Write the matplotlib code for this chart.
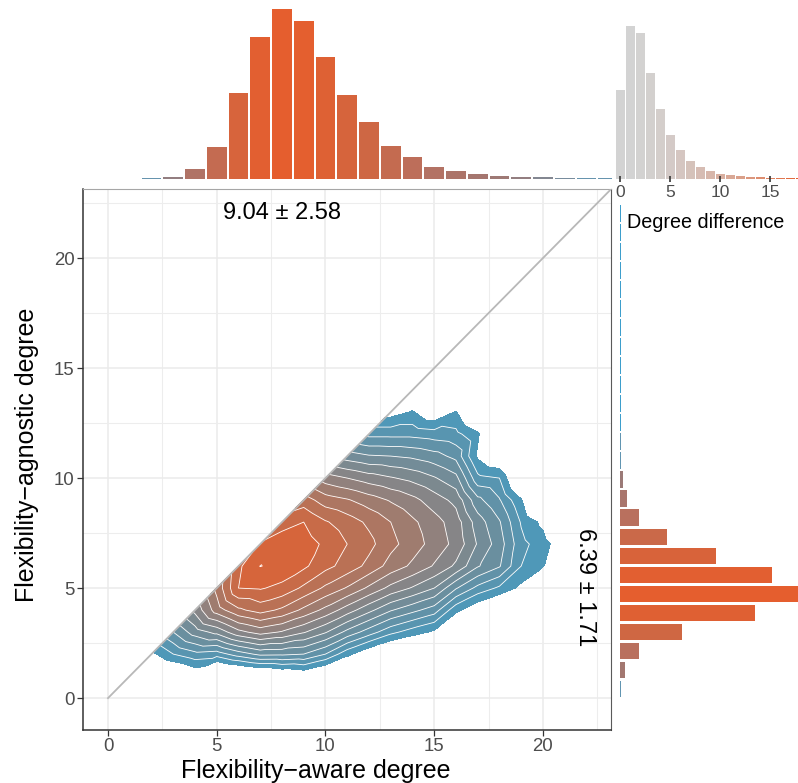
import numpy as np
import matplotlib
matplotlib.use("Agg")
import matplotlib.pyplot as plt
import matplotlib.tri as mtri
from matplotlib.colors import LinearSegmentedColormap

plt.rcParams['font.family'] = ['Liberation Sans', 'DejaVu Sans']

# ---- values ----
# top histogram: flexibility-aware degree
aware_degree = list(range(2, 24))
aware_counts = [3, 7, 31, 97, 259, 427, 511, 475, 367, 253, 172, 100,
                67, 37, 25, 16, 10, 7, 5, 4, 3, 3]

# right histogram: flexibility-agnostic degree
agnostic_degree = list(range(1, 27))
agnostic_counts = [1, 5, 19, 62, 135, 178, 152, 96, 47, 19, 7, 3, 1, 1,
                   0.7, 0.7, 0.7, 0.7, 0.7, 0.7, 0.7, 0.7, 0.7, 0.7, 0.7, 0.7]

# inset histogram: degree difference (aware - agnostic)
diff_values = list(range(0, 19))
diff_counts = [268, 460, 439, 318, 210, 132, 87, 54, 36, 24, 16, 12, 9, 6,
               5, 4, 3, 3, 2]

aware_mean, aware_sd = 9.04, 2.58
agnostic_mean, agnostic_sd = 6.39, 1.71

# density level of the 2d distribution, one list per aware degree x = 0..22,
# entries for agnostic degree y = 0..min(x, 14) (no points above the diagonal)
density_grid = [
    [-3],
    [-3, -3],
    [-3, -2, 0.2],
    [-3, -1.5, 1.5, 3.5],
    [-3, -0.6, 2.2, 5.0, 6.8],
    [-3, -2.5, 2.0, 5.8, 9.0, 9.8],
    [-3, -2.0, 3.0, 7.2, 10.3, 12.5, 12.3],
    [-3, -1.5, 3.75, 7.9, 10.9, 12.6, 13.52, 12.6],
    [-3, -1.0, 3.7, 7.4, 10.3, 12.2, 13.3, 13.2, 12.0],
    [-3, -0.6, 3.5, 6.6, 9.25, 11.3, 12.7, 13.0, 12.5, 11.0],
    [-3, -1.5, 2.5, 5.6, 8.2, 10.3, 11.8, 12.3, 11.6, 10.0, 8.0],
    [-3, -2, 0.8, 4.2, 7.0, 9.4, 11.1, 11.5, 11.0, 9.6, 7.5, 5.0],
    [-3, -3, -0.5, 3.0, 5.8, 8.3, 10.2, 10.8, 10.3, 9.0, 7.0, 4.6, 2.2],
    [-3, -3, -1.5, 1.8, 4.6, 7.2, 9.1, 9.8, 9.5, 8.4, 6.6, 4.5, 2.2, 0.0],
    [-3, -3, -2, 1.0, 3.8, 6.4, 8.3, 9.0, 8.7, 7.8, 6.2, 4.3, 2.2, 0.6, -1],
    [-3, -3, -2.5, 0.3, 3.0, 5.5, 7.4, 8.1, 7.9, 7.0, 5.6, 3.9, 2.0, -0.5, -2],
    [-3, -3, -3, -1.5, 0.8, 3.6, 6.3, 7.2, 7.0, 6.2, 4.8, 3.2, 1.8, 0.6, -1.5],
    [-3, -3, -3, -2.5, -0.5, 2.2, 4.6, 5.4, 5.0, 3.8, 1.8, 0.3, 0.7, -1.5, -3],
    [-3, -3, -3, -3, -1.5, 1.3, 3.6, 4.0, 3.6, 2.6, 1.5, -0.8, -2, -3, -3],
    [-3, -3, -3, -3, -2, 0.2, 1.5, 1.8, 1.4, 0.6, -1.5, -3, -3, -3, -3],
    [-3, -3, -3, -3, -3, -1.5, 0.6, 1.0, 0.2, -2, -3, -3, -3, -3, -3],
    [-3, -3, -3, -3, -3, -3, -2, -0.5, -2, -3, -3, -3, -3, -3, -3],
    [-3, -3, -3, -3, -3, -3, -3, -3, -3, -3, -3, -3, -3, -3, -3],
]

# ---- colours ----
hist_cmap = LinearSegmentedColormap.from_list(
    "hist", [(0.0, "#29a3db"), (0.12, "#6e92a8"), (0.28, "#9a7a78"),
             (0.6, "#b87060"), (0.8, "#cd6845"), (1.0, "#e55e2e")])
dens_cmap = LinearSegmentedColormap.from_list(
    "dens", ["#4f98b8", "#8a8483", "#e3602e"])
diff_cmap = LinearSegmentedColormap.from_list("diff", ["#d3d3d3", "#e35f2e"])


def count_colors(counts):
    counts = np.asarray(counts, dtype=float)
    t = (np.log10(counts / counts.max()) + 2.5) / 2.5
    return hist_cmap(np.clip(t, 0, 1))


W, H = 798, 783
fig = plt.figure(figsize=(W / 100, H / 100), dpi=100)


def px_axes(left, top, right, bottom):
    return fig.add_axes([left / W, 1 - bottom / H, (right - left) / W, (bottom - top) / H])


# ---- main panel ----
ax = px_axes(83, 189, 611, 730)
ax.set_xlim(-1.15, 23.13)
ax.set_ylim(-1.45, 23.14)
ax.set_xticks([0, 5, 10, 15, 20])
ax.set_yticks([0, 5, 10, 15, 20])
ax.set_xticks([2.5, 7.5, 12.5, 17.5, 22.5], minor=True)
ax.set_yticks([2.5, 7.5, 12.5, 17.5, 22.5], minor=True)
ax.grid(which='major', color='#ebebeb', lw=1.1, zorder=0)
ax.grid(which='minor', color='#ededed', lw=0.8, zorder=0)
ax.set_axisbelow(True)
ax.tick_params(which='major', length=4, width=0.9, color='#333333',
               labelsize=13.4, labelcolor='#4d4d4d', pad=2)
ax.tick_params(which='minor', length=0)
for side in ['left', 'bottom']:
    ax.spines[side].set_color('#333333')
    ax.spines[side].set_linewidth(1.1)
ax.spines['top'].set_color('#a6a6a6')
ax.spines['top'].set_linewidth(0.8)
ax.spines['right'].set_color('#5a5a5a')
ax.spines['right'].set_linewidth(0.8)

# triangulate the lower triangle only, so the density stops at the diagonal
pts_x, pts_y, pts_z = [], [], []
index = {}
for x, col in enumerate(density_grid):
    for y, z in enumerate(col):
        index[(x, y)] = len(pts_x)
        pts_x.append(x)
        pts_y.append(y)
        pts_z.append(z)
triangles = []
for (x, y), i in index.items():
    a = index.get((x + 1, y))
    b = index.get((x + 1, y + 1))
    c = index.get((x, y + 1))
    if a is not None and b is not None:
        triangles.append([i, a, b])
    if b is not None and c is not None:
        triangles.append([i, b, c])
tri = mtri.Triangulation(pts_x, pts_y, triangles)

levels = [k + 0.5 for k in range(14)] + [30]
band_colors = [dens_cmap(k / 13) for k in range(14)]
ax.tricontourf(tri, pts_z, levels=levels, colors=band_colors, zorder=2)
ax.tricontour(tri, pts_z, levels=levels[1:-1], colors='white', linewidths=0.6, zorder=3)

lim = ax.get_xlim()[1]
ax.plot([0, lim], [0, lim], color='#b8b8b8', lw=1.3, zorder=4)

ax.text(0.377, 0.955, f"{aware_mean:.2f} \u00b1 {aware_sd:.2f}", transform=ax.transAxes,
        ha='center', va='center', fontsize=17, color='black')
ax.text(0.951, 0.265, f"{agnostic_mean:.2f} \u00b1 {agnostic_sd:.2f}", transform=ax.transAxes,
        ha='center', va='center', fontsize=17, color='black', rotation=-90)

fig.text(316 / W, 1 - 771 / H, "Flexibility\u2212aware degree", ha='center', va='center',
         fontsize=18, color='black')
fig.text(27 / W, 1 - 455 / H, "Flexibility\u2212agnostic degree", ha='center', va='center',
         fontsize=18, color='black', rotation=90)

# ---- top marginal histogram ----
ax_top = px_axes(83, 9, 630, 179)
ax_top.bar(aware_degree, aware_counts, width=0.9, color=count_colors(aware_counts))
ax_top.set_xlim(-1.15, 24.0)
ax_top.set_ylim(0, 511)
ax_top.axis('off')

# ---- right marginal histogram ----
ax_right = px_axes(620, 189, 798, 730)
ax_right.barh(agnostic_degree, agnostic_counts, height=0.88, color=count_colors(agnostic_counts))
ax_right.set_xlim(0, 178)
ax_right.set_ylim(-1.16, 27.3)
ax_right.axis('off')

# ---- inset: degree difference ----
ax_diff = px_axes(612, 26, 798, 179)
diff_t = (np.array(diff_values) / 18.0) ** 2
ax_diff.bar(diff_values, diff_counts, width=0.9, color=diff_cmap(diff_t))
ax_diff.set_xlim(-0.8, 17.8)
ax_diff.set_ylim(0, 460)
for s in ax_diff.spines.values():
    s.set_visible(False)
ax_diff.set_yticks([])
ax_diff.set_xticks([0, 5, 10, 15])
ax_diff.tick_params(axis='x', direction='inout', length=4.5, width=1.2, color='#333333',
                    labelsize=12.5, labelcolor='#4d4d4d', pad=2)
fig.text(706 / W, 1 - 222 / H, "Degree difference", ha='center', va='center',
         fontsize=14.2, color='black')

fig.savefig("out.png", dpi=100)
